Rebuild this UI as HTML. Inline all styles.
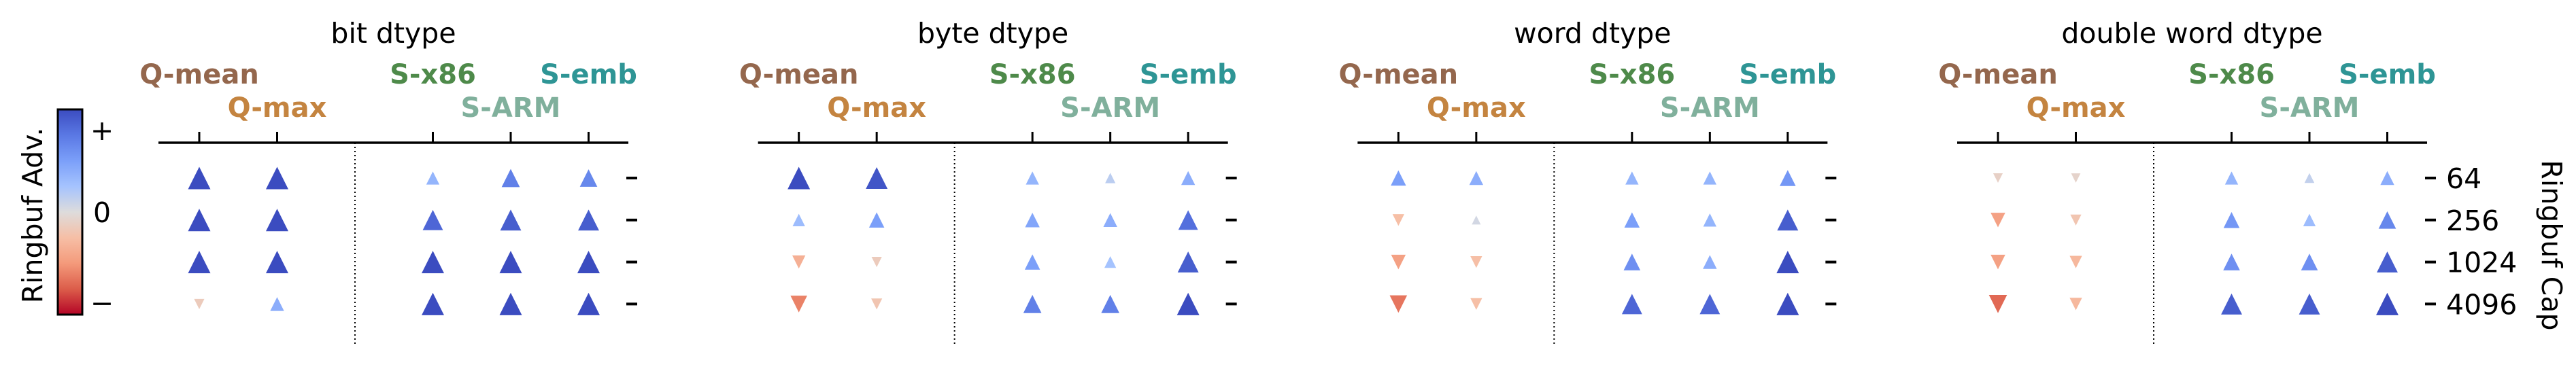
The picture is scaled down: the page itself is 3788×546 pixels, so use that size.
<!DOCTYPE html>
<html><head><meta charset="utf-8"><style>
html,body{margin:0;padding:0;background:#fff;width:3788px;height:546px;overflow:hidden}
svg{display:block}
text{font-family:"DejaVu Sans","Liberation Sans",sans-serif}
</style></head><body>
<svg id="chart" width="3788" height="546" viewBox="0 0 3788 546" xmlns="http://www.w3.org/2000/svg">
<defs>
<linearGradient id="cw" x1="0" y1="0" x2="0" y2="1">
<stop offset="0" stop-color="#3b4cc0"/><stop offset="0.125" stop-color="#5a78e4"/>
<stop offset="0.25" stop-color="#7b9ff9"/><stop offset="0.375" stop-color="#a5c3fe"/>
<stop offset="0.5" stop-color="#dddcdc"/><stop offset="0.625" stop-color="#f6bfa6"/>
<stop offset="0.75" stop-color="#f49a7b"/><stop offset="0.875" stop-color="#dc5d4a"/>
<stop offset="1" stop-color="#b40426"/></linearGradient></defs>
<g>
<rect x="85" y="161" width="36" height="302" fill="url(#cw)" stroke="#000" stroke-width="3"/>
<text x="150" y="206" font-size="41" text-anchor="middle">+</text>
<text x="150" y="327" font-size="41" text-anchor="middle">0</text>
<text x="150" y="460" font-size="41" text-anchor="middle">−</text>
<text transform="translate(62,317) rotate(-90)" font-size="41" text-anchor="middle">Ringbuf Adv.</text>
</g>
<g id="panels"></g>
<text transform="translate(3738,361) rotate(90)" font-size="41" text-anchor="middle">Ringbuf Cap</text>
</svg>
<script>
const panelTitles = ["bit dtype","byte dtype","word dtype","double word dtype"];
const methods = ["Q-mean","Q-max","S-x86","S-ARM","S-emb"];
const methodPos = [0,1,3,4,5];
const methodColors = ["#94674d","#c48440","#4e8a4a","#80b09c","#2e9595"];
const capLabels = ["64","256","1024","4096"];
// values per panel: rows = caps, cols = methods (positive = advantage)
const bitVals = [[1.0,1.0,0.35,0.7,0.65],[1.0,1.0,0.85,0.9,0.9],[1.0,1.0,1.0,1.0,1.0],[-0.15,0.4,1.0,1.0,1.0]];
const byteVals = [[1.0,0.95,0.35,0.15,0.4],[0.3,0.5,0.45,0.4,0.8],[-0.35,-0.15,0.5,0.25,0.9],[-0.6,-0.2,0.7,0.7,1.0]];
const wordVals = [[0.5,0.4,0.35,0.35,0.55],[-0.25,0.05,0.5,0.35,0.9],[-0.45,-0.25,0.6,0.4,1.0],[-0.65,-0.25,0.85,0.85,1.0]];
const dwordVals = [[-0.1,-0.08,0.35,0.12,0.4],[-0.45,-0.2,0.55,0.3,0.65],[-0.45,-0.3,0.6,0.6,0.9],[-0.7,-0.3,0.9,0.9,1.0]];
const allVals = [bitVals,byteVals,wordVals,dwordVals];

const NS="http://www.w3.org/2000/svg";
const stops=[[59,76,192],[90,120,228],[123,159,249],[165,195,254],[221,220,220],[246,191,166],[244,154,123],[220,93,74],[180,4,38]];
function cw(v){let t=Math.max(0,Math.min(1,0.5-v/2))*8;let i=Math.min(7,Math.floor(t)),f=t-i;
 const a=stops[i],b=stops[i+1];return "rgb("+a.map((c,k)=>Math.round(c+(b[k]-c)*f)).join(",")+")";}
function px(p,x){return 293+p*881.67+x*114.5;}
function py(r){return 262+r*61.8;}
function sz(v){return 12+21*Math.abs(v);}
function mk(tag,attrs,parent){const e=document.createElementNS(NS,tag);for(const k in attrs)e.setAttribute(k,attrs[k]);parent.appendChild(e);return e;}
const root=document.getElementById("panels");
panelTitles.forEach((title,p)=>{
 const g=mk("g",{},root);
 
 
 const x0=px(p,0)-60, x1=x0+691;
 const t=mk("text",{x:(x0+x1)/2,y:63,"font-size":41,"text-anchor":"middle"},g);t.textContent=title;
 
 
 const ax=mk("line",{x1:x0,x2:x1,y1:210,y2:210,stroke:"#000","stroke-width":3.5},g);
 
 
 const dl=mk("line",{x1:px(p,2),x2:px(p,2),y1:210,y2:509,stroke:"#000","stroke-width":2,"stroke-dasharray":"2,4"},g);
 
 
 methods.forEach((m,j)=>{
  const x=px(p,methodPos[j]);
  const tk=mk("line",{x1:x,x2:x,y1:194,y2:210,stroke:"#000","stroke-width":3},g);
  
  
  const lb=mk("text",{x:x,y:(j===1||j===3)?172:123,"font-size":40,"font-weight":"bold","text-anchor":"middle",fill:methodColors[j]},g);
  lb.textContent=m;
  
  
 });
 capLabels.forEach((c,r)=>{
  const y=py(r), xr=x1-3;
  const rt=mk("line",{x1:xr,x2:xr+16,y1:y,y2:y,stroke:"#000","stroke-width":4},g);
  
  
  if(p===3){const tl=mk("text",{x:xr+31,y:y+15,"font-size":41},g);tl.textContent=c;
   
   }
  allVals[p][r].forEach((v,j)=>{
   const x=px(p,methodPos[j]),s=sz(v),h=s/2;
   const pts=v>=0?[[x,y-h],[x-h,y+h],[x+h,y+h]]:[[x,y+h],[x-h,y-h],[x+h,y-h]];
   const tri=mk("polygon",{points:pts.map(q=>q.join(",")).join(" "),fill:cw(v)},g);
   
   
  });
 });
});
</script>
</body></html>
